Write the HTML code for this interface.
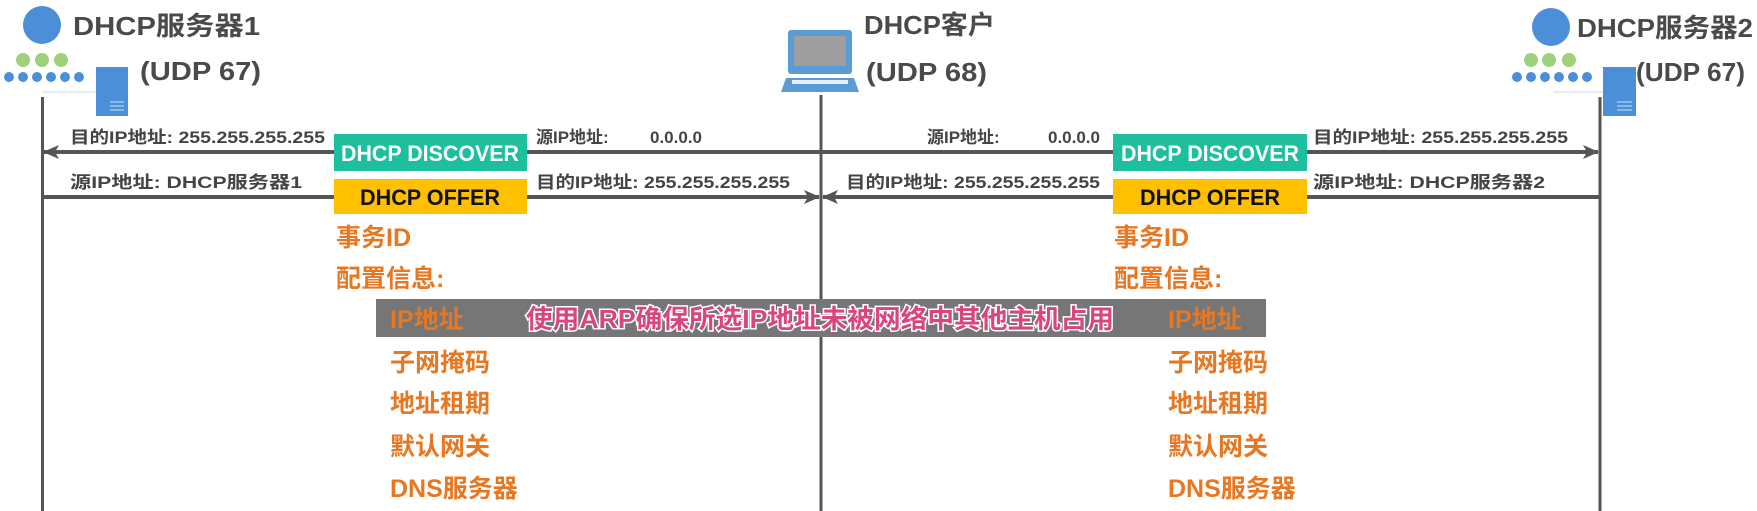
<!DOCTYPE html>
<html><head><meta charset="utf-8"><style>
html,body{margin:0;padding:0;background:#fff;}
svg{display:block;}
text{font-family:"Liberation Sans","Noto Sans CJK SC",sans-serif;font-weight:bold;}
</style></head><body>
<svg width="1757" height="511" viewBox="0 0 1757 511" xmlns="http://www.w3.org/2000/svg">
<defs>
<marker id="ah" markerWidth="16" markerHeight="14" refX="15" refY="7" orient="auto" markerUnits="userSpaceOnUse">
<path d="M0,0 L16,7 L0,14 L4,7 Z" fill="#555"/></marker>
</defs>
<line x1="42.5" y1="97" x2="42.5" y2="511" stroke="#555" stroke-width="3"/>
<line x1="821" y1="95" x2="821" y2="511" stroke="#555" stroke-width="3"/>
<line x1="1600" y1="97" x2="1600" y2="511" stroke="#555" stroke-width="3"/>
<line x1="43" y1="92" x2="96" y2="92" stroke="#cfd8e0" stroke-width="1"/>
<circle cx="42" cy="25" r="19" fill="#4a8fd8"/>
<g fill="#9fd07a"><circle cx="23" cy="60" r="7"/><circle cx="42" cy="60" r="7"/><circle cx="61" cy="60" r="7"/></g>
<g fill="#4a8fd8"><circle cx="9" cy="77" r="5"/><circle cx="23" cy="77" r="5"/><circle cx="37" cy="77" r="5"/><circle cx="51" cy="77" r="5"/><circle cx="65" cy="77" r="5"/><circle cx="79" cy="77" r="5"/></g>
<rect x="96" y="67" width="32" height="49" fill="#4a8fd8"/>
<g stroke="#cfe0f3" stroke-width="1"><line x1="110" y1="102" x2="124" y2="102"/><line x1="110" y1="106" x2="124" y2="106"/><line x1="110" y1="110" x2="124" y2="110"/></g>
<line x1="1553" y1="92" x2="1603" y2="92" stroke="#cfd8e0" stroke-width="1"/>
<circle cx="1551" cy="27" r="19" fill="#4a8fd8"/>
<g fill="#9fd07a"><circle cx="1531" cy="60" r="7"/><circle cx="1549" cy="60" r="7"/><circle cx="1569" cy="60" r="7"/></g>
<g fill="#4a8fd8"><circle cx="1517" cy="77" r="5"/><circle cx="1531" cy="77" r="5"/><circle cx="1545" cy="77" r="5"/><circle cx="1559" cy="77" r="5"/><circle cx="1573" cy="77" r="5"/><circle cx="1587" cy="77" r="5"/></g>
<rect x="1603" y="67" width="33" height="49" fill="#4a8fd8"/>
<g stroke="#cfe0f3" stroke-width="1"><line x1="1617" y1="102" x2="1632" y2="102"/><line x1="1617" y1="106" x2="1632" y2="106"/><line x1="1617" y1="110" x2="1632" y2="110"/></g>
<rect x="788" y="30" width="64" height="44" rx="3" fill="#5b9bd5"/>
<rect x="794" y="36" width="52" height="30" fill="#9e9e9e"/>
<path d="M786,78 L854,78 L859,92 L781,92 Z" fill="#5b9bd5"/>
<rect x="792" y="80" width="56" height="4" fill="#e8f0f8"/>
<g fill="#4a4a4a" font-size="26">
<text x="73" y="35" textLength="187" lengthAdjust="spacingAndGlyphs">DHCP服务器1</text>
<text x="140" y="80" textLength="121" lengthAdjust="spacingAndGlyphs">(UDP 67)</text>
<text x="864" y="34" textLength="131" lengthAdjust="spacingAndGlyphs">DHCP客户</text>
<text x="866" y="81" textLength="121" lengthAdjust="spacingAndGlyphs">(UDP 68)</text>
<text x="1577" y="37" textLength="176" lengthAdjust="spacingAndGlyphs">DHCP服务器2</text>
<text x="1636" y="81" textLength="109" lengthAdjust="spacingAndGlyphs">(UDP 67)</text>
</g>
<line x1="334" y1="152" x2="44" y2="152" stroke="#555" stroke-width="4" marker-end="url(#ah)"/>
<line x1="527" y1="152" x2="1113" y2="152" stroke="#555" stroke-width="4"/>
<line x1="1307" y1="152" x2="1598" y2="152" stroke="#555" stroke-width="4" marker-end="url(#ah)"/>
<line x1="43" y1="197" x2="334" y2="197" stroke="#555" stroke-width="4"/>
<line x1="527" y1="197" x2="819" y2="197" stroke="#555" stroke-width="4" marker-end="url(#ah)"/>
<line x1="1600" y1="197" x2="1307" y2="197" stroke="#555" stroke-width="4"/>
<line x1="1113" y1="197" x2="823" y2="197" stroke="#555" stroke-width="4" marker-end="url(#ah)"/>
<rect x="334" y="134" width="193" height="37" fill="#1dbf9f"/>
<rect x="1113" y="134" width="194" height="37" fill="#1dbf9f"/>
<rect x="334" y="179" width="193" height="35" fill="#ffc000"/>
<rect x="1113" y="179" width="194" height="35" fill="#ffc000"/>
<g font-size="22" text-anchor="middle">
<text x="430" y="161" fill="#fff" textLength="178" lengthAdjust="spacingAndGlyphs">DHCP DISCOVER</text>
<text x="1210" y="161" fill="#fff" textLength="178" lengthAdjust="spacingAndGlyphs">DHCP DISCOVER</text>
<text x="430" y="205" fill="#111" textLength="140" lengthAdjust="spacingAndGlyphs">DHCP OFFER</text>
<text x="1210" y="205" fill="#111" textLength="140" lengthAdjust="spacingAndGlyphs">DHCP OFFER</text>
</g>
<g fill="#444" font-size="17">
<text x="70" y="143" textLength="255" lengthAdjust="spacingAndGlyphs">目的IP地址: 255.255.255.255</text>
<text x="70" y="188" textLength="232" lengthAdjust="spacingAndGlyphs">源IP地址:  DHCP服务器1</text>
<text x="536" y="143">源IP地址:</text>
<text x="650" y="143">0.0.0.0</text>
<text x="536" y="188" textLength="254" lengthAdjust="spacingAndGlyphs">目的IP地址: 255.255.255.255</text>
<text x="927" y="143">源IP地址:</text>
<text x="1100" y="143" text-anchor="end">0.0.0.0</text>
<text x="846" y="188" textLength="254" lengthAdjust="spacingAndGlyphs">目的IP地址: 255.255.255.255</text>
<text x="1313" y="143" textLength="255" lengthAdjust="spacingAndGlyphs">目的IP地址: 255.255.255.255</text>
<text x="1313" y="188" textLength="232" lengthAdjust="spacingAndGlyphs">源IP地址:  DHCP服务器2</text>
</g>
<rect x="376" y="299" width="890" height="38" fill="#767676"/>
<g fill="#e87722" font-size="25">
<text x="336" y="246">事务ID</text>
<text x="336" y="287">配置信息:</text>
<text x="390" y="328">IP地址</text>
<text x="390" y="371">子网掩码</text>
<text x="390" y="412">地址租期</text>
<text x="390" y="455">默认网关</text>
<text x="390" y="497">DNS服务器</text>
<text x="1114" y="246">事务ID</text>
<text x="1114" y="287">配置信息:</text>
<text x="1168" y="328">IP地址</text>
<text x="1168" y="371">子网掩码</text>
<text x="1168" y="412">地址租期</text>
<text x="1168" y="455">默认网关</text>
<text x="1168" y="497">DNS服务器</text>
</g>
<text x="820" y="328" font-size="26" text-anchor="middle" fill="#d9457f" stroke="#fff" stroke-width="3" paint-order="stroke" textLength="588" lengthAdjust="spacingAndGlyphs">使用ARP确保所选IP地址未被网络中其他主机占用</text>
</svg>
</body></html>
